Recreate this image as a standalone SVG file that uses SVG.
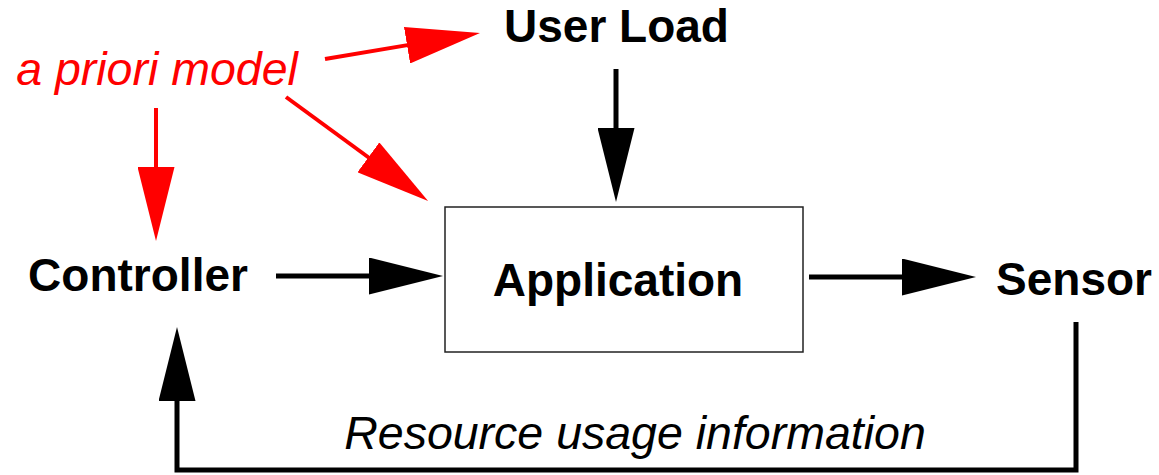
<svg xmlns="http://www.w3.org/2000/svg" width="1159" height="475" viewBox="0 0 1159 475">
<style>
.lbl{font-family:"Liberation Sans",Arial,sans-serif;font-size:46px;font-weight:bold;fill:#000;text-anchor:middle}
.it{font-family:"Liberation Sans",Arial,sans-serif;font-size:46.5px;font-style:italic;text-anchor:middle}
.blk{fill:none;stroke:#000;stroke-width:5;marker-end:url(#hb)}
.red{fill:none;stroke:#ff0000;stroke-width:4;marker-end:url(#hr)}
</style>
<defs>
<marker id="hb" viewBox="0 0 74 37" refX="2" refY="18.5" markerWidth="74" markerHeight="37" markerUnits="userSpaceOnUse" orient="auto">
<path d="M0,0 L74,18.5 L0,37 Z" fill="#000"/>
</marker>
<marker id="hr" viewBox="0 0 74 37" refX="2" refY="18.5" markerWidth="74" markerHeight="37" markerUnits="userSpaceOnUse" orient="auto">
<path d="M0,0 L74,18.5 L0,37 Z" fill="#ff0000"/>
</marker>
</defs>
<rect width="1159" height="475" fill="#fff"/>
<g id="connectors">
<path class="blk" d="M616,69 V130"/>
<path class="blk" d="M276,276 H371"/>
<path class="blk" d="M809,277 H904"/>
<path class="blk" d="M1076,322 V470 H177 V399"/>
<path class="red" d="M325,59 L409,44.9"/>
<path class="red" d="M286,97 L370,158.5"/>
<path class="red" d="M156,108 V169"/>
</g>
<g id="userload"><text class="lbl" x="616.5" y="42">User Load</text></g>
<g id="apriori"><text class="it" x="157" y="85" fill="#ff0000">a priori model</text></g>
<g id="application">
<rect x="445" y="207" width="358" height="145" fill="#fff" stroke="#222" stroke-width="1.5"/>
<text class="lbl" x="618" y="296">Application</text>
</g>
<g id="controller"><text class="lbl" x="138" y="291">Controller</text></g>
<g id="sensor"><text class="lbl" x="1074" y="295">Sensor</text></g>
<g id="feedback-label"><text class="it" x="635" y="449" fill="#000">Resource usage information</text></g>
</svg>
